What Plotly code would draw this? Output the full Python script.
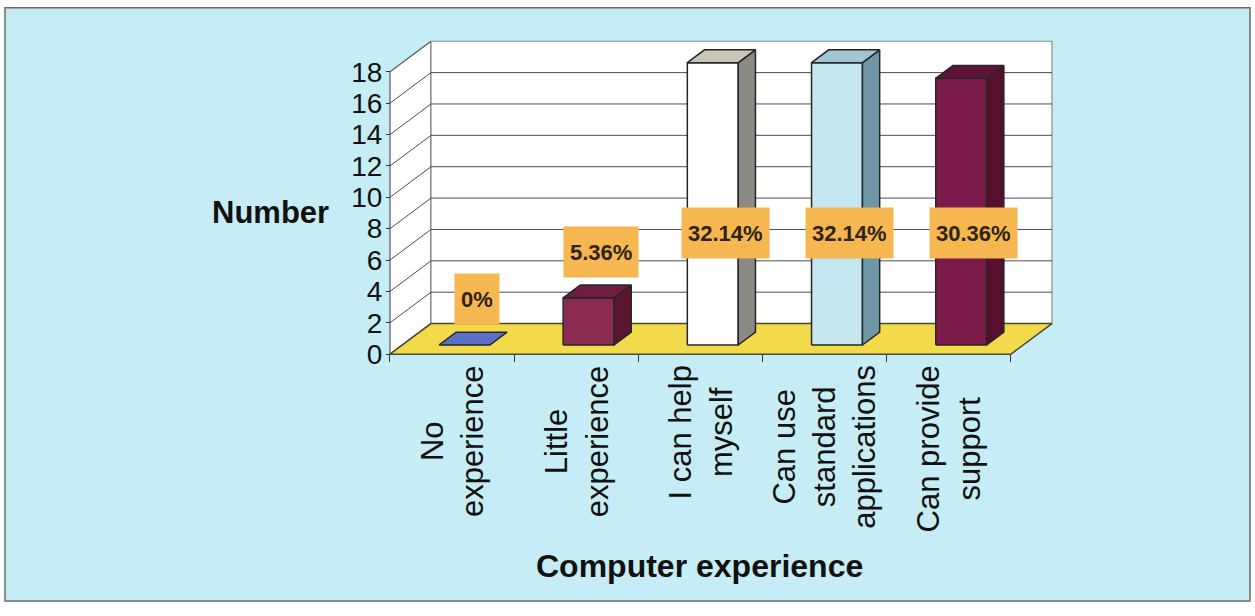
import plotly.graph_objects as go

# ---- data -------------------------------------------------------------
categories = [
    "No<br>experience",
    "Little<br>experience",
    "I can help<br>myself",
    "Can use<br>standard<br>applications",
    "Can provide<br>support",
]
counts = [0, 3, 18, 18, 17]
pct_labels = ["0%", "5.36%", "32.14%", "32.14%", "30.36%"]
y_ticks = list(range(0, 19, 2))

# ---- styling ----------------------------------------------------------
front_colors = ["#5b6fc6", "#8b2b52", "#ffffff", "#c4e7f0", "#7a1b4a"]
side_colors = ["#3b4a90", "#5a1633", "#8a8a82", "#6f96a4", "#55102f"]
top_colors = ["#5b6fc6", "#6d1e40", "#cbc5b8", "#a2c6d1", "#5f1239"]
EDGE = "#262626"
FONT = "Arial, Liberation Sans, sans-serif"

W, H = 1255, 616
X_ORIGIN_PX, X_END_PX = 390, 1011      # front floor edge
Y_ORIGIN_PX, Y_TOP_PX = 360, 73        # front value 0 and value 18
n_cat = len(counts)
y_max = y_ticks[-1]
px_x = (X_END_PX - X_ORIGIN_PX) / n_cat
px_y = (Y_ORIGIN_PX - Y_TOP_PX) / y_max

# oblique depth of the box (data units) and bar depth fractions
DX, DY = 0.33, 1.95
F, B = 0.30, 0.72
HALF = 0.205

x_range = [-0.12, 5.45]
y_range = [-0.35, 20.3]
x_dom = [(X_ORIGIN_PX + x_range[0] * px_x) / W, (X_ORIGIN_PX + x_range[1] * px_x) / W]
y_dom = [1 - (Y_ORIGIN_PX - y_range[0] * px_y) / H, 1 - (Y_ORIGIN_PX - y_range[1] * px_y) / H]


def poly(pts, fill, line_color, width=1.2):
    xs = [p[0] for p in pts] + [pts[0][0]]
    ys = [p[1] for p in pts] + [pts[0][1]]
    return go.Scatter(x=xs, y=ys, mode="lines", fill="toself", fillcolor=fill,
                      line=dict(color=line_color, width=width),
                      hoverinfo="skip", showlegend=False)


fig = go.Figure()

# walls
fig.add_trace(poly([(0, 0), (0, y_max), (DX, y_max + DY), (DX, DY)], "#ffffff", "#555555", 1.2))
fig.add_trace(poly([(DX, DY), (DX, y_max + DY), (n_cat + DX, y_max + DY), (n_cat + DX, DY)],
                   "#ffffff", "#8a8a8a", 1.2))

# gridlines on back and side walls
gx, gy = [], []
for t in y_ticks[1:-1]:
    gx += [DX, n_cat + DX, None, 0, DX, None]
    gy += [t + DY, t + DY, None, t, t + DY, None]
fig.add_trace(go.Scatter(x=gx, y=gy, mode="lines", line=dict(color="#4d4d4d", width=1),
                         hoverinfo="skip", showlegend=False))

# floor
fig.add_trace(poly([(0, 0), (n_cat, 0), (n_cat + DX, DY), (DX, DY)], "#f3da4b", "#4a4a3a", 1.5))

# bars
for i, v in enumerate(counts):
    xl, xr = i + 0.5 - HALF, i + 0.5 + HALF
    fx, fy = F * DX, F * DY
    bx, by = B * DX, B * DY
    if v > 0:
        fig.add_trace(poly([(xl + fx, fy), (xr + fx, fy), (xr + fx, v + fy), (xl + fx, v + fy)],
                           front_colors[i], EDGE, 1.5))
        fig.add_trace(poly([(xr + fx, fy), (xr + bx, by), (xr + bx, v + by), (xr + fx, v + fy)],
                           side_colors[i], EDGE, 1.5))
    fig.add_trace(poly([(xl + fx, v + fy), (xr + fx, v + fy), (xr + bx, v + by), (xl + bx, v + by)],
                       top_colors[i], EDGE, 1.5))

annotations = []
# percentage labels
for i, (v, lab) in enumerate(zip(counts, pct_labels)):
    annotations.append(dict(
        x=i + 0.5 + 0.6 * DX, y=min(v + 3.5, 7.7), xref="x", yref="y",
        text="<b>" + lab + "</b>", showarrow=False, xanchor="center", yanchor="middle",
        font=dict(family=FONT, size=22, color="#2e2414"),
        bgcolor="#f6b650", borderpad=6, height=38,
    ))

# category labels (rotated, centred lines)
for i, c in enumerate(categories):
    annotations.append(dict(
        x=i + 0.5, y=1 - 369 / H, xref="x", yref="paper", text=c, showarrow=False,
        textangle=-90, xanchor="center", yanchor="top", align="center",
        font=dict(family=FONT, size=31, color="#111111"),
    ))

annotations.append(dict(x=270 / W, y=1 - 216 / H, xref="paper", yref="paper",
                        text="<b>Number</b>", showarrow=False, xanchor="center", yanchor="middle",
                        font=dict(family=FONT, size=31, color="#111111")))
annotations.append(dict(x=699 / W, y=1 - 575 / H, xref="paper", yref="paper",
                        text="<b>Computer experience</b>", showarrow=False,
                        xanchor="center", yanchor="middle",
                        font=dict(family=FONT, size=32, color="#111111")))

fig.update_layout(
    width=W, height=H,
    margin=dict(l=0, r=0, t=0, b=0),
    paper_bgcolor="#ffffff",
    plot_bgcolor="rgba(0,0,0,0)",
    showlegend=False,
    annotations=annotations,
    shapes=[dict(type="rect", xref="paper", yref="paper", layer="below",
                 x0=5 / W, x1=1250 / W, y0=1 - 611 / H, y1=1 - 8 / H,
                 fillcolor="#c6edf6", line=dict(color="#6b6b6b", width=1.5))],
    xaxis=dict(range=x_range, domain=x_dom, anchor="free", position=1 - Y_ORIGIN_PX / H,
               tickmode="array", tickvals=list(range(n_cat + 1)), ticks="outside", ticklen=7,
               tickcolor="#333333", showticklabels=False, showgrid=False, zeroline=False,
               showline=False, fixedrange=True),
    yaxis=dict(range=y_range, domain=y_dom, anchor="free", position=X_ORIGIN_PX / W,
               tickmode="array", tickvals=y_ticks, ticks="outside", ticklen=4, tickcolor="#333333",
               tickfont=dict(family=FONT, size=28, color="#111111"), ticklabelstandoff=-2,
               showgrid=False, zeroline=False, showline=False, fixedrange=True),
)

fig.write_html("out.html")
